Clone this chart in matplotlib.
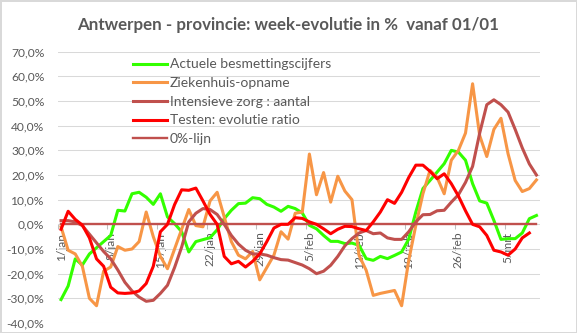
import matplotlib
matplotlib.use("Agg")
import matplotlib.pyplot as plt
from matplotlib.ticker import FixedLocator, FuncFormatter
import numpy as np
import datetime as dt

plt.rcParams['font.family'] = ['Lato', 'DejaVu Sans']

# ---------------- data ----------------
start = dt.date(2021, 1, 1)
n_days = 68
months_nl = {1: 'jan', 2: 'feb', 3: 'mrt'}
dates = [start + dt.timedelta(days=i) for i in range(n_days)]
date_labels = [f"{d.day}/{months_nl[d.month]}" for d in dates]

green = [-30.5, -25, -14, -16.5, -12, -9.5, -7, -4.5, 5.7, 5.4,
         12.4, 13, 11, 8.1, 12.4, 3, 0.3, -3, -11.2, -7,
         -6.2, -5.4, -2.2, 2.3, 5.7, 8.4, 8.6, 10.8, 10.4, 8.1,
         7, 5.3, 7.3, 6.4, 4.6, -0.4, -1.8, -4.5, -6.9, -6.9,
         -7.8, -7.6, -8.5, -13.9, -14.6, -13, -13.9, -12.6, -11.2, -6,
         5, 14.5, 17.8, 21.2, 24.6, 30, 29.3, 26, 16.5, 9.5,
         8.6, 1.6, -6.1, -5.8, -5.8, -3.5, 2.3, 3.6]

orange = [-1, -10.5, -12, -17, -30, -33, -19, -17.3, -9, -10.5,
          -10, -7, 5, -5, -13, -18, -10, -2, 6, -0.5,
          -1, 9.5, 13, 3, -7, -12.5, -14, -11, -22.5, -17.5,
          -12.5, -3, -6, 4.5, 5, 28.5, 12, 21, 9, 19.5,
          13.5, 10, -12.6, -18.6, -28.8, -28, -27.4, -26.8, -33, -14.6,
          -0.4, 12.4, 21.9, 19, 12.4, 26, 30, 37, 57, 36,
          27.5, 38.5, 43, 28.6, 17.8, 13.3, 14.5, 18]

brown = [1.5, 1.5, 1, -0.5, -4, -7.5, -11, -14, -18.5, -23.5,
         -27, -29.5, -31.2, -30.8, -28, -24.7, -17.5, -9.2, 1, 4.5,
         6.4, 6, 4, 0, -4.5, -8, -10.5, -12, -12, -12.5,
         -13.5, -14.3, -14.5, -15.5, -16.5, -18, -20, -19, -16.6, -13,
         -8.7, -5.8, -3.5, -2.5, -3.8, -3.5, -5.5, -6.1, -6.1, -3,
         1, 3.9, 4, 5.5, 5.7, 9, 12, 17, 23.5, 37,
         48.5, 50.5, 48.5, 45.5, 38.5, 31, 24.5, 20]

red = [-2, 5.3, 2, -0.3, -5.5, -14, -17, -25.5, -27.8, -28,
       -27.8, -27, -24, -17, -3, 0, 8, 14, 13.8, 14.7,
       9.5, 4, 0, -13, -16, -15, -17.3, -15, -12, -7,
       -1.5, 0, 0, 2.7, 2.4, 1, 0, -1.8, -3.8, -2,
       -0.8, -0.9, -1.8, -2.5, 1, 5, 10, 8.5, 13, 19,
       24, 24, 21.5, 18.5, 20.5, 16.5, 11.5, 5.5, 0, -1,
       -4.5, -10.5, -11.2, -12.5, -10, -5.5, -3.5]

zero_line = [0.0] * n_days

series_names = ["Actuele besmettingscijfers", "Ziekenhuis-opname",
                "Intensieve zorg : aantal", "Testen: evolutie ratio", "0%-lijn"]

y_ticks = [-40, -30, -20, -10, 0, 10, 20, 30, 40, 50, 60, 70]
title = "Antwerpen - provincie: week-evolutie in %  vanaf 01/01"

# ---------------- style ----------------
TXT = '#595959'
GRID = '#D9D9D9'
c_green = '#33FF00'
c_orange = '#F79646'
c_brown = '#C0504D'
c_red = '#FF0000'

W, H = 577, 333
fig = plt.figure(figsize=(W / 100, H / 100), dpi=100)
fig.patch.set_facecolor('white')
fig.patch.set_edgecolor('#D9D9D9')
fig.patch.set_linewidth(1.0)

left_px, right_px, top_px, bot_px = 57.5, 540.0, 51.7, 323.0
ax = fig.add_axes([left_px / W, 1 - bot_px / H, (right_px - left_px) / W, (bot_px - top_px) / H])

lw = 2.2
ax.plot(np.arange(len(green)), green, color=c_green, lw=lw, label=series_names[0], zorder=3,
        solid_joinstyle='round')
ax.plot(np.arange(len(orange)), orange, color=c_orange, lw=lw, label=series_names[1], zorder=3,
        solid_joinstyle='round')
ax.plot(np.arange(len(brown)), brown, color=c_brown, lw=lw, label=series_names[2], zorder=4,
        solid_joinstyle='round')
ax.plot(np.arange(len(red)), red, color=c_red, lw=lw, label=series_names[3], zorder=6,
        solid_joinstyle='round')
ax.plot(np.arange(len(zero_line)), zero_line, color=c_brown, lw=1.7, label=series_names[4], zorder=5)

ax.set_xlim(-0.5, n_days - 0.5)
ax.set_ylim(-40, 70)

# y axis
ax.yaxis.set_major_locator(FixedLocator(y_ticks))
ax.yaxis.set_major_formatter(FuncFormatter(lambda v, p: f"{v:.1f}%".replace('.', ',')))
ax.tick_params(axis='y', length=0, pad=9.5, labelsize=8.64, labelcolor=TXT)
ax.grid(axis='y', color=GRID, lw=0.75, zorder=0)
ax.set_axisbelow(True)

# x axis at y = 0
for s in ['left', 'right', 'top']:
    ax.spines[s].set_visible(False)
ax.spines['bottom'].set_position(('data', 0))
ax.spines['bottom'].set_visible(False)
major_pos = list(range(0, n_days, 7))
ax.xaxis.set_major_locator(FixedLocator(major_pos))
ax.set_xticklabels([date_labels[i] for i in major_pos], rotation=90)
ax.xaxis.set_minor_locator(FixedLocator([p - 0.5 for p in major_pos]))
ax.tick_params(axis='x', which='major', length=0, pad=5.2, labelsize=8.64, labelcolor=TXT)
ax.tick_params(axis='x', which='minor', length=3.5, width=0.75, color='#BFBFBF')

# legend
leg = ax.legend(loc='upper left', bbox_to_anchor=((133.3 - left_px) / (right_px - left_px), 0.975),
                frameon=False, fontsize=10, handlelength=2.4, handletextpad=0.24,
                labelspacing=0.48, borderpad=0, borderaxespad=0)
for t in leg.get_texts():
    t.set_color(TXT)

fig.text(0.5, 1 - 25 / H, title, ha='center', va='center', fontsize=12.2,
         fontweight='bold', color=TXT)

fig.savefig('out.png', dpi=100, facecolor=fig.get_facecolor(), edgecolor=fig.get_edgecolor())
